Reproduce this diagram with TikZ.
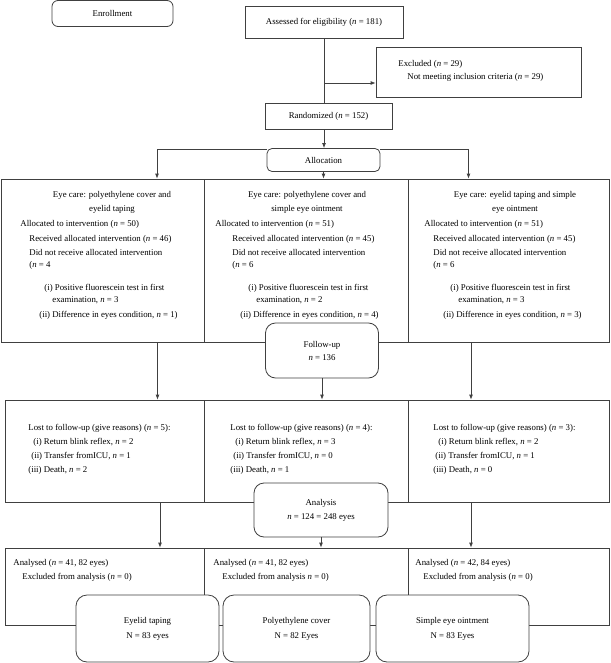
\documentclass[tikz,border=0pt]{standalone}
\usepackage{fontspec}
\setmainfont{Liberation Serif}
\usetikzlibrary{arrows.meta,positioning,calc}

\tikzset{
  box/.style={draw=black!75, line width=0.8pt, fill=white, inner sep=0pt},
  rbox/.style={box, rounded corners=#1},
  rbox/.default=10pt,
  txt/.style={inner sep=0pt, align=left, anchor=north west},
  head/.style={inner sep=0pt, align=center, anchor=north},
}
\newcommand{\nv}{\textit{n}}
\newcommand{\fsz}[1]{\fontsize{8.8}{#1}\selectfont}

\begin{document}
\begin{tikzpicture}[x=1pt,y=-1pt,line width=0.8pt,draw=black!75,>={Latex[length=5pt,width=4pt]},
  font=\fsz{14.5}]
  \useasboundingbox (0,0) rectangle (610,663);

  % enrollment
  \node[rbox=6pt, minimum width=121pt, minimum height=26pt] (enroll) at (112.5,13.5) {Enrollment};
  \node[box, minimum width=158pt, minimum height=32pt] (assess) at (324,22) {Assessed for eligibility (\nv{} = 181)};
  \node[box, minimum width=205pt, minimum height=50pt] (excl) at (478.5,72) {};
  \node[txt] (excltxt) at (398,60) {Excluded (\nv{} = 29)\\[-2pt]
    \hspace*{9pt}Not meeting inclusion criteria (\nv{} = 29)};
  \node[box, minimum width=127pt, minimum height=26pt] (rand) at (328.5,116) {Randomized (\nv{} = 152)};
  \coordinate (exsplit) at (324,83);
  \draw (assess.south) -- (assess.south |- rand.north);
  \draw[->] (exsplit) -- (exsplit -| excl.west);

  % allocation
  \node[box, minimum width=203pt, minimum height=163pt] (a1) at (102.5,260.5) {};
  \node[box, minimum width=204pt, minimum height=163pt] (a2) at (306,260.5) {};
  \node[box, minimum width=201pt, minimum height=163pt] (a3) at (508.5,260.5) {};
  \node[rbox=5pt, minimum width=113pt, minimum height=23pt] (alloc) at (323.5,160) {Allocation};
  \draw[->] (rand.south -| assess.south) -- (assess.south |- alloc.north);
  \draw[->] (alloc.south) -- (alloc.south |- a2.north);
  \draw[->] ($(alloc.north west)+(0,1.5)$) -| ([xshift=54.5pt]a1.north);
  \draw[->] ($(alloc.north east)+(0,1.5)$) -| ([xshift=-40pt]a3.north);

  \node[head] (a1h) at (112,191) {Eye care: polyethylene cover and\\[-0.5pt]eyelid taping};
  \node[head] (a2h) at (307,191) {Eye care: polyethylene cover and\\[-0.5pt]simple eye ointment};
  \node[head] (a3h) at (515,191) {Eye care: eyelid taping and simple\\[-0.5pt]eye ointment};
  \node[txt] (a1t) at (20,220) {Allocated to intervention (\nv{} = 50)\\
    \hspace*{9pt}Received allocated intervention (\nv{} = 46)\\
    \hspace*{9pt}Did not receive allocated intervention\\[-2.5pt]
    \hspace*{9pt}(\nv{} = 4\\[8.5pt]
    \hspace*{24pt}(i) Positive fluorescein test in first\\[-2.5pt]
    \hspace*{32pt}examination, \nv{} = 3\\
    \hspace*{19pt}(ii) Difference in eyes condition, \nv{} = 1)};
  \node[txt] (a2t) at (215,220) {Allocated to intervention (\nv{} = 51)\\
    \hspace*{17pt}Received allocated intervention (\nv{} = 45)\\
    \hspace*{17pt}Did not receive allocated intervention\\[-2.5pt]
    \hspace*{17pt}(\nv{} = 6\\[8.5pt]
    \hspace*{33pt}(i) Positive fluorescein test in first\\[-2.5pt]
    \hspace*{41pt}examination, \nv{} = 2\\
    \hspace*{25pt}(ii) Difference in eyes condition, \nv{} = 4)};
  \node[txt] (a3t) at (424,220) {Allocated to intervention (\nv{} = 51)\\
    \hspace*{9pt}Received allocated intervention (\nv{} = 45)\\
    \hspace*{9pt}Did not receive allocated intervention\\[-2.5pt]
    \hspace*{9pt}(\nv{} = 6\\[8.5pt]
    \hspace*{26pt}(i) Positive fluorescein test in first\\[-2.5pt]
    \hspace*{34pt}examination, \nv{} = 3\\
    \hspace*{19pt}(ii) Difference in eyes condition, \nv{} = 3)};

  % follow-up
  \node[box, minimum width=199pt, minimum height=102pt] (f1) at (104.5,451) {};
  \node[box, minimum width=204pt, minimum height=102pt] (f2) at (306,451) {};
  \node[box, minimum width=201pt, minimum height=102pt] (f3) at (508.5,451) {};
  \node[rbox, minimum width=113pt, minimum height=55pt, align=center,
    font=\fsz{13}] (fup) at (322,350.5) {Follow-up\\\nv{} = 136};
  \draw[->] ([xshift=55pt]a1.south) -- ([xshift=55pt]a1.south |- f1.north);
  \draw[->] (fup.south) -- (fup.south |- f2.north);
  \draw[->] ([xshift=-37.5pt]a3.south) -- ([xshift=-37.5pt]a3.south |- f3.north);

  \node[txt, font=\fsz{14}] (f1t) at (28,424) {Lost to follow-up (give reasons) (\nv{} = 5):\\
    \hspace*{5pt}(i) Return blink reflex, \nv{} = 2\\
    \hspace*{3pt}(ii) Transfer fromICU, \nv{} = 1\\
    (iii) Death, \nv{} = 2};
  \node[txt, font=\fsz{14}] (f2t) at (230,424) {Lost to follow-up (give reasons) (\nv{} = 4):\\
    \hspace*{5pt}(i) Return blink reflex, \nv{} = 3\\
    \hspace*{3pt}(ii) Transfer fromICU, \nv{} = 0\\
    (iii) Death, \nv{} = 1};
  \node[txt, font=\fsz{14}] (f3t) at (433,424) {Lost to follow-up (give reasons) (\nv{} = 3):\\
    \hspace*{5pt}(i) Return blink reflex, \nv{} = 2\\
    \hspace*{2pt}(ii) Transfer fromICU, \nv{} = 1\\
    (iii) Death, \nv{} = 0};

  % analysis
  \node[box, minimum width=199pt, minimum height=77pt] (n1) at (104.5,586.5) {};
  \node[box, minimum width=204pt, minimum height=77pt] (n2) at (306,586.5) {};
  \node[box, minimum width=201pt, minimum height=77pt] (n3) at (508.5,586.5) {};
  \node[rbox, minimum width=134pt, minimum height=54pt, align=center,
    font=\fsz{14}] (anal) at (321,510) {Analysis\\\nv{} = 124 = 248 eyes};
  \draw[->] ([xshift=55.5pt]f1.south) -- ([xshift=55.5pt]f1.south |- n1.north);
  \draw[->] (anal.south) -- (anal.south |- n2.north);
  \draw[->] ([xshift=-37.5pt]f3.south) -- ([xshift=-37.5pt]f3.south |- n3.north);

  \node[txt, font=\fsz{14}] (n1t) at (13,559) {Analysed (\nv{} = 41, 82 eyes)\\
    \hspace*{9pt}Excluded from analysis (\nv{} = 0)};
  \node[txt, font=\fsz{14}] (n2t) at (213,559) {Analysed (\nv{} = 41, 82 eyes)\\
    \hspace*{9pt}Excluded from analysis \nv{} = 0)};
  \node[txt, font=\fsz{14}] (n3t) at (415,559) {Analysed (\nv{} = 42, 84 eyes)\\
    \hspace*{8pt}Excluded from analysis (\nv{} = 0)};

  % groups
  \node[rbox=11pt, minimum width=143pt, minimum height=67pt, align=center,
    font=\fsz{15}] (eyelid) at (147.5,628.5) {Eyelid taping\\N = 83 eyes};
  \node[rbox=11pt, minimum width=147pt, minimum height=67pt, align=center,
    font=\fsz{15}] (poly) at (296.5,628.5) {Polyethylene cover\\N = 82 Eyes};
  \node[rbox=11pt, minimum width=153pt, minimum height=67pt, align=center,
    font=\fsz{15}] (simple) at (452.5,628.5) {Simple eye ointment\\N = 83 Eyes};
\end{tikzpicture}
\end{document}
